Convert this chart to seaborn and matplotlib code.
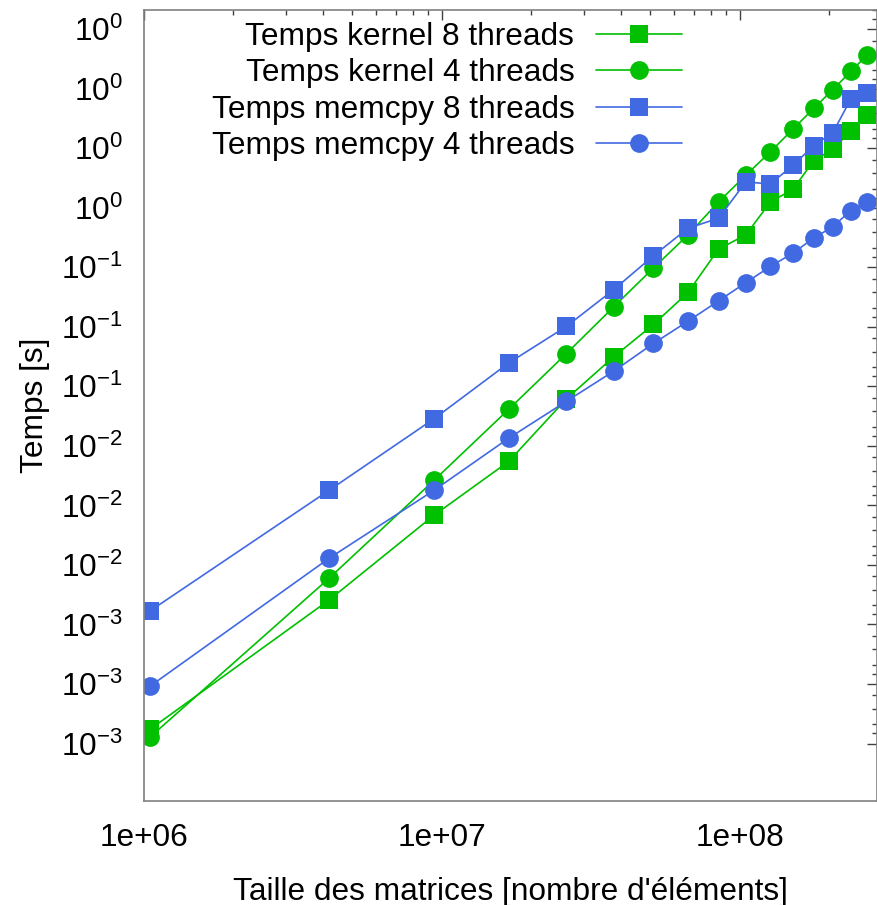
import numpy as np
import pandas as pd
import seaborn as sns
import matplotlib
matplotlib.use("Agg")
import matplotlib.pyplot as plt
from matplotlib.ticker import FixedLocator, FuncFormatter, LogLocator, NullFormatter

# matrix sizes: (1024*k)^2 elements, k = 1..16
taille = [1048576, 4194304, 9437184, 16777216, 26214400, 37748736, 51380224, 67108864,
          84934656, 104857600, 126877696, 150994944, 177209344, 205520896, 235929600, 268435456]

kernel_8 = [0.00230, 0.0104, 0.0279, 0.0521, 0.108, 0.176, 0.257, 0.373,
            0.618, 0.729, 1.07, 1.24, 1.73, 1.98, 2.44, 2.94]
kernel_4 = [0.00210, 0.0134, 0.0419, 0.0956, 0.183, 0.315, 0.496, 0.729,
            1.07, 1.46, 1.92, 2.50, 3.18, 3.96, 4.89, 5.94]
memcpy_8 = [0.00913, 0.0373, 0.0858, 0.164, 0.251, 0.385, 0.572, 0.788,
            0.885, 1.35, 1.32, 1.64, 2.06, 2.40, 3.54, 3.81]
memcpy_4 = [0.00380, 0.0169, 0.0373, 0.0683, 0.105, 0.149, 0.206, 0.267,
            0.338, 0.418, 0.505, 0.590, 0.702, 0.803, 0.967, 1.07]

noms = ["Temps kernel 8 threads", "Temps kernel 4 threads",
        "Temps memcpy 8 threads", "Temps memcpy 4 threads"]
series = [kernel_8, kernel_4, memcpy_8, memcpy_4]
couleurs = ["#00c000", "#00c000", "#4169e1", "#4169e1"]
marqueurs = ["s", "o", "s", "o"]

sns.set_style("white")
plt.rcParams["font.family"] = ["Liberation Sans", "DejaVu Sans"]
plt.rcParams["mathtext.fontset"] = "custom"
plt.rcParams["mathtext.rm"] = "Liberation Sans"
plt.rcParams["mathtext.it"] = "Liberation Sans:italic"
plt.rcParams["text.color"] = "black"
plt.rcParams["axes.labelcolor"] = "black"
plt.rcParams["xtick.labelcolor"] = "black"
plt.rcParams["ytick.labelcolor"] = "black"
fs = 22.8

fig = plt.figure(figsize=(8.78, 9.05), dpi=100)
ax = fig.add_axes([143.7 / 878, 104 / 905, (877 - 143.7) / 878, (801 - 10) / 905])

for nom, vals, c, m in zip(noms, series, couleurs, marqueurs):
    df = pd.DataFrame({"taille": taille, "temps": vals})
    sns.lineplot(data=df, x="taille", y="temps", ax=ax, color=c, marker=m,
                 markersize=13.5, markeredgewidth=0, linewidth=1.2, label=nom)

ax.set_xscale("log")
ax.set_yscale("log")
ax.set_xlim(1e6, 2.89e8)
ax.set_ylim(0.001, 10)

# y ticks every factor of 2, labelled with the power of ten
maj = 2.0 ** np.arange(-9, 4)
mins = [v * f for v in maj for f in (1.125, 1.25, 1.5, 1.75) if v * f <= 10]
ax.yaxis.set_major_locator(FixedLocator(maj))
ax.yaxis.set_minor_locator(FixedLocator(mins))
ax.yaxis.set_major_formatter(FuncFormatter(lambda v, p: r"$10^{%d}$" % int(np.floor(np.log10(v) + 1e-9))))
ax.yaxis.set_minor_formatter(NullFormatter())

ax.xaxis.set_major_locator(FixedLocator([1e6, 1e7, 1e8]))
ax.xaxis.set_major_formatter(FuncFormatter(lambda v, p: "1e+%02d" % int(round(np.log10(v)))))
ax.xaxis.set_minor_locator(LogLocator(base=10, subs=np.arange(2, 10)))
ax.xaxis.set_minor_formatter(NullFormatter())

ax.tick_params(which="both", direction="in", top=True, right=True, color="#404040", width=1)
ax.tick_params(which="major", length=7.2, labelsize=fs)
ax.tick_params(which="minor", length=3.6)
ax.tick_params(axis="y", pad=15)
ax.tick_params(axis="x", pad=16)
for s in ax.spines.values():
    s.set_color("#808080")
    s.set_linewidth(1.2)

ax.set_xlabel("Taille des matrices [nombre d'éléments]", fontsize=fs, labelpad=17)
ax.set_ylabel("Temps [s]", fontsize=fs)
ax.yaxis.set_label_coords(-0.128, 0.5)

ax.legend(loc="upper right", bbox_to_anchor=(682 / 878, 1 - 22 / 905),
          bbox_transform=fig.transFigure, frameon=False, markerfirst=False,
          fontsize=fs, handlelength=2.7, handletextpad=0.7, labelspacing=0.2,
          borderpad=0, borderaxespad=0)

fig.savefig("out.png", dpi=100)
